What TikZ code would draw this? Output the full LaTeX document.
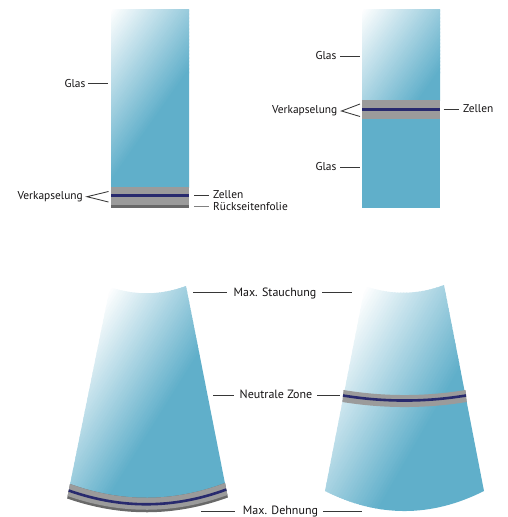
\documentclass[tikz,border=0pt]{standalone}
\usepackage{fontspec}
\setmainfont{PT Sans}
\definecolor{glassblue}{RGB}{96,175,202}
\definecolor{encgray}{RGB}{155,155,155}
\definecolor{cellnavy}{RGB}{40,42,110}
\definecolor{backgray}{RGB}{105,105,105}
\definecolor{inkgray}{RGB}{55,55,55}
\definecolor{labelink}{RGB}{20,18,19}
% Glass body: white corner at (#2,#3) fading to blue along a direction
% #4 degrees below horizontal over #5 units; #1 is the outline.
\newcommand\glassgradient[5]{%
  \begin{scope}
    \clip #1;
    \begin{scope}[shift={(#2,#3)}, rotate=-#4]
      \fill[white] (-600,-600) rectangle (0.5,600);
      \foreach \k in {0,...,47} {
        \pgfmathsetmacro\mixpct{100*\k/47}
        \fill[glassblue!\mixpct!white] ({\k*#5/48},-600) rectangle ({(\k+1)*#5/48+0.8},600);
      }
      \fill[glassblue] (#5,-600) rectangle (1200,600);
    \end{scope}
  \end{scope}}
\begin{document}
\begin{tikzpicture}[x=1pt,y=-1pt]
\tikzset{
  lbl/.style={font=\fontsize{11.4}{13}\selectfont, text=labelink, inner sep=0pt},
  biglbl/.style={font=\fontsize{12}{14}\selectfont, text=labelink, inner sep=0pt},
  leader/.style={draw=inkgray, line width=0.85pt},
  foilleader/.style={draw=gray, line width=0.85pt},
  encband/.style={fill=encgray},
  cellline/.style={draw=cellnavy, line width=2.6pt},
  cellbar/.style={fill=cellnavy},
  backfoil/.style={fill=backgray},
}
\useasboundingbox (0,0) rectangle (507,517);

% ---- flat glass-foil module ----
\glassgradient{(111,9) rectangle (189,187.5)}{111}{9}{35}{100}
\fill[encband] (111,187) rectangle (189,205);
\fill[cellbar] (111,193.8) rectangle (189,196.8);
\fill[backfoil] (111,205) rectangle (189,208);

% ---- flat glass-glass module ----
\glassgradient{(362,9) rectangle (440,100.5)}{362}{9}{35}{100}
\fill[glassblue] (362,118.5) rectangle (440,208);
\fill[encband] (362,100) rectangle (440,119);
\fill[cellbar] (362,107.7) rectangle (440,110.7);

% ---- bent glass-foil module ----
\glassgradient{(110,287) .. controls (135.3,295.7) and (160.7,295.3) .. (186,286)
  -- (225.2,484.5) .. controls (173.7,503.8) and (121.9,504.2) .. (69.8,485.5) -- cycle}{110}{287}{32}{112}
\fill[backfoil] (70,484) .. controls (122,502.7) and (173.7,502.3) .. (225,483)
  -- (227.9,497.5) .. controls (174.6,516.8) and (121,517.2) .. (67.1,498.5) -- cycle;
\fill[encband] (70,484) .. controls (122,502.7) and (173.7,502.3) .. (225,483)
  -- (227.4,495) .. controls (174.5,514.3) and (121.2,514.7) .. (67.6,496) -- cycle;
\draw[cellline] (68.7,490.5) .. controls (121.6,509.2) and (174.1,508.8) .. (226.3,489.5);

% ---- bent glass-glass module ----
\glassgradient{(365,286) .. controls (391.3,295.3) and (417.7,295) .. (444,285)
  -- (484,491) .. controls (431,517.7) and (378,517.7) .. (325,491) -- cycle}{365}{286}{30}{125}
\fill[encband] (343.5,390) .. controls (384.2,396.7) and (424.9,396.7) .. (465.6,390)
  -- (466.8,402) .. controls (425.3,408.7) and (383.8,408.7) .. (342.3,402) -- cycle;
\draw[cellline] (343,395.5) .. controls (384,402.2) and (425,402.2) .. (466,395.5);

% ---- labels ----
\node[lbl, anchor=base east] (tlGlas)   at (85.5,87)    {Glas};
\node[lbl, anchor=base east] (tlVerk)   at (83,199.5)   {Verkapselung};
\node[lbl, anchor=base west] (tlZellen) at (213,198.8)  {Zellen};
\node[lbl, anchor=base west] (tlFolie)  at (213,210.5)  {Rückseitenfolie};
\node[lbl, anchor=base east] (trGlasO)  at (336.5,59.5) {Glas};
\node[lbl, anchor=base east] (trVerk)   at (337.5,113.5){Verkapselung};
\node[lbl, anchor=base west] (trZellen) at (463,112.3)  {Zellen};
\node[lbl, anchor=base east] (trGlasU)  at (336.5,170.5){Glas};
\node[biglbl, anchor=base] (stauch)  at (275,296)   {Max. Stauchung};
\node[biglbl, anchor=base] (neutral) at (276,398.3) {Neutrale Zone};
\node[biglbl, anchor=base] (dehn)    at (280.5,514.3) {Max. Dehnung};

% ---- leader line ends ----
\coordinate (gA1) at (88,83.5);    \coordinate (gA2) at (108,83.5);
\coordinate (vA0) at (87,196.7);   \coordinate (vA1) at (108.5,191.5); \coordinate (vA2) at (108.5,202);
\coordinate (zA1) at (194,195.7);  \coordinate (zA2) at (209,195.7);
\coordinate (fA1) at (194,206);    \coordinate (fA2) at (209,206);
\coordinate (gB1) at (340,56);     \coordinate (gB2) at (359.5,56);
\coordinate (vB0) at (341.5,111);  \coordinate (vB1) at (360,104);     \coordinate (vB2) at (360,116.5);
\coordinate (zB1) at (443.5,109);  \coordinate (zB2) at (459,109);
\coordinate (gC1) at (340,167);    \coordinate (gC2) at (359.5,167);
\coordinate (s1) at (193,292); \coordinate (s2) at (227,292); \coordinate (s3) at (322,292); \coordinate (s4) at (352,292);
\coordinate (n1) at (213,395); \coordinate (n2) at (234,395); \coordinate (n3) at (317,395); \coordinate (n4) at (340,395);
\coordinate (d1) at (201,511); \coordinate (d2) at (235,511); \coordinate (d3) at (323,511); \coordinate (d4) at (362,511);

% ---- leader lines ----
\draw[leader] (gA1) -- (gA2);
\draw[leader] (vA1) -- (vA0) -- (vA2);
\draw[leader] (zA1) -- (zA2);
\draw[foilleader] (fA1) -- (fA2);
\draw[leader] (gB1) -- (gB2);
\draw[leader] (vB1) -- (vB0) -- (vB2);
\draw[leader] (zB1) -- (zB2);
\draw[leader] (gC1) -- (gC2);
\draw[leader] (s1) -- (s2); \draw[leader] (s3) -- (s4);
\draw[leader] (n1) -- (n2); \draw[leader] (n3) -- (n4);
\draw[leader] (d1) -- (d2); \draw[leader] (d3) -- (d4);
\end{tikzpicture}
\end{document}
